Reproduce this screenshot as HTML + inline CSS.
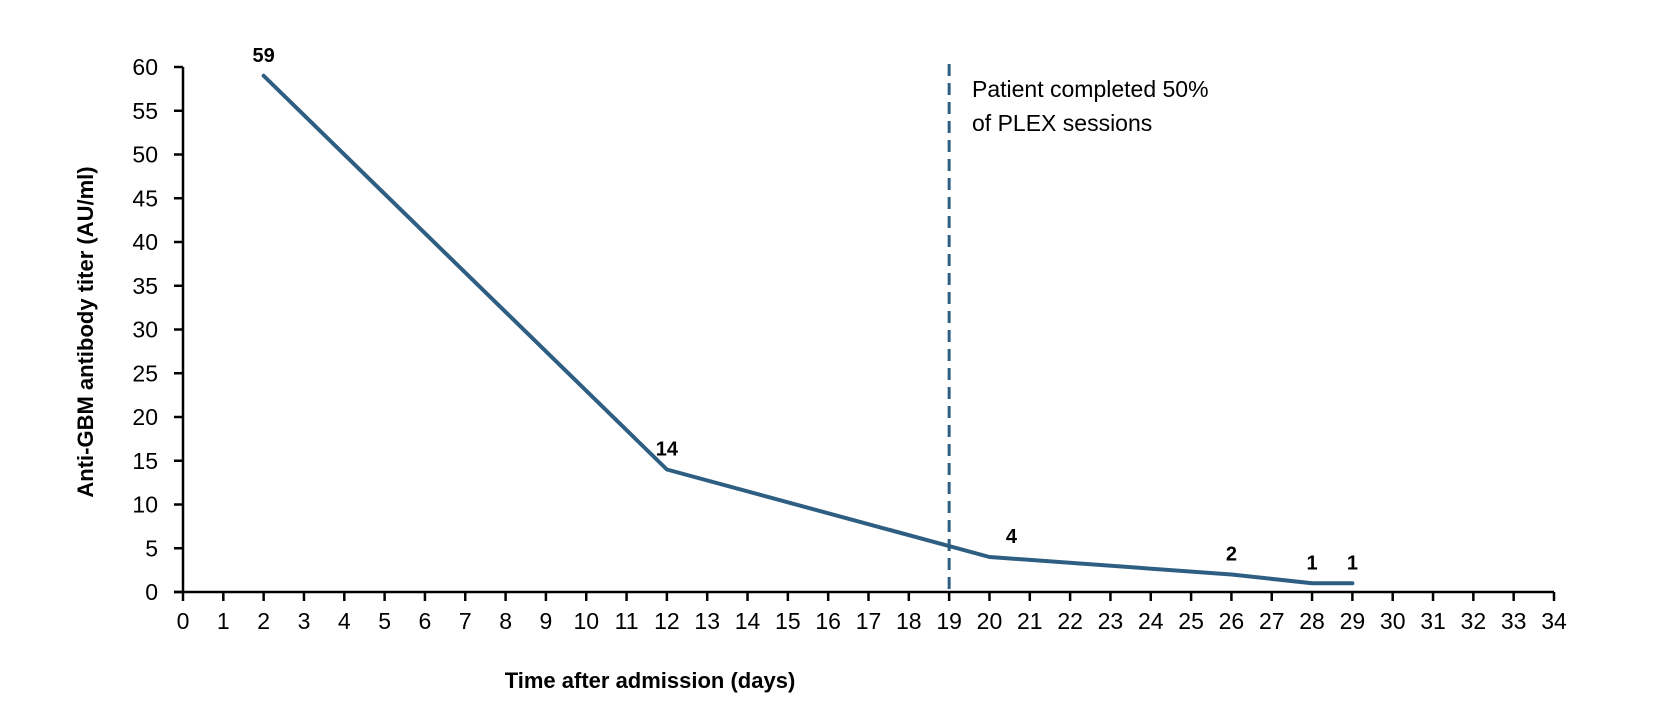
<!DOCTYPE html>
<html><head><meta charset="utf-8"><style>
html,body{margin:0;padding:0;background:#fff;}
svg{display:block;font-family:"Liberation Sans",sans-serif;}
</style></head><body>
<svg id="chart" width="1674" height="716" xmlns="http://www.w3.org/2000/svg"></svg>
<script>
const days = [2, 12, 20, 26, 28, 29];
const titers = [59, 14, 4, 2, 1, 1];
const xTicks = [0,1,2,3,4,5,6,7,8,9,10,11,12,13,14,15,16,17,18,19,20,21,22,23,24,25,26,27,28,29,30,31,32,33,34];
const yTicks = [0,5,10,15,20,25,30,35,40,45,50,55,60];
const markerDay = [19];

const X0=183, X1=1554, Y0=592, Y1=67;
const xs = d => X0 + (d-0)/(34-0)*(X1-X0);
const ys = v => Y0 - (v-0)/(60-0)*(Y0-Y1);
const svg = document.getElementById('chart');
const NS='http://www.w3.org/2000/svg';
function mk(tag, attrs, parent){const e=document.createElementNS(NS,tag);for(const k in attrs)e.setAttribute(k,attrs[k]);(parent||svg).appendChild(e);return e;}

let ax = mk('line',{x1:X0,y1:Y1,x2:X0,y2:Y0,stroke:'#000','stroke-width':2.5});


ax = mk('line',{x1:X0-9,y1:Y0,x2:X1,y2:Y0,stroke:'#000','stroke-width':2.5});



yTicks.forEach(v=>{
  const t=mk('line',{x1:X0-9,y1:ys(v),x2:X0,y2:ys(v),stroke:'#000','stroke-width':2.5});
  
  
  const l=mk('text',{x:158,y:ys(v)+8,'text-anchor':'end','font-size':23,fill:'#000'});
  l.textContent=v;
  
  
});
xTicks.forEach(d=>{
  const t=mk('line',{x1:xs(d),y1:Y0,x2:xs(d),y2:Y0+9,stroke:'#000','stroke-width':2.5});
  
  
  const l=mk('text',{x:xs(d),y:Y0+37,'text-anchor':'middle','font-size':23,fill:'#000'});
  l.textContent=d;
  
  
});

markerDay.forEach(d=>{
  const m=mk('line',{x1:xs(d),y1:64,x2:xs(d),y2:Y0,stroke:'#2E5F82','stroke-width':3,'stroke-dasharray':'12 7'});
  
  
});
const ann=mk('text',{x:972,y:97,'font-size':23,fill:'#000'});


const t1=mk('tspan',{x:972,y:97},ann);t1.textContent='Patient completed 50%';
const t2=mk('tspan',{x:972,y:131},ann);t2.textContent='of PLEX sessions';

const pts = days.map((d,i)=>xs(d)+','+ys(titers[i])).join(' ');
const line=mk('polyline',{points:pts,fill:'none',stroke:'#2E5F82','stroke-width':4,'stroke-linejoin':'round','stroke-linecap':'round'});



const offs=[[0,-14],[0,-14],[22,-14],[0,-14],[0,-14],[0,-14]];
days.forEach((d,i)=>{
  const l=mk('text',{x:xs(d)+offs[i][0],y:ys(titers[i])+offs[i][1],'text-anchor':'middle','font-size':20,'font-weight':'bold',fill:'#000'});
  l.textContent=titers[i];
  
  
});

const xt=mk('text',{x:650,y:688,'text-anchor':'middle','font-size':22,'font-weight':'bold',fill:'#000'});
xt.textContent='Time after admission (days)';


const yt=mk('text',{x:0,y:0,'text-anchor':'middle','font-size':22,'font-weight':'bold',fill:'#000',transform:'translate(93,332) rotate(-90)'});
yt.textContent='Anti-GBM antibody titer (AU/ml)';


</script>
</body></html>
